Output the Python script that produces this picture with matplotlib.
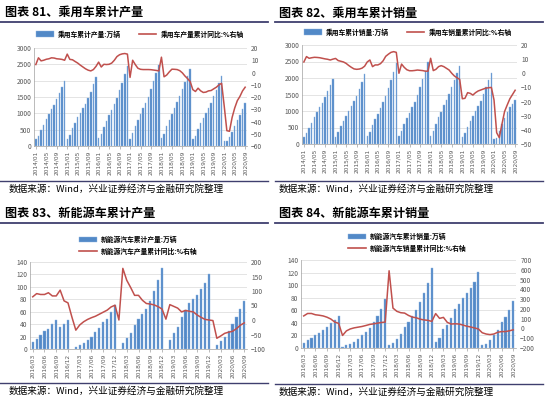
import numpy as np
import matplotlib.pyplot as plt
from matplotlib.patches import Patch
from matplotlib.lines import Line2D

plt.rcParams['font.family'] = ['Noto Sans CJK SC', 'DejaVu Sans']

W, H = 550, 399

# ---- data ----
pc_months = [f'{y}/{m:02d}' for y in range(2014, 2021) for m in range(1, 13)][:81]
nev_months = [f'{y}/{m:02d}' for y in range(2016, 2021) for m in range(1, 13)][2:57]

pc_prod = [200, 310, 490, 650, 820, 980, 1120, 1260, 1440, 1620, 1810, 2000,
           200, 350, 540, 710, 880, 1020, 1160, 1300, 1480, 1660, 1890, 2110,
           230, 370, 590, 760, 940, 1110, 1280, 1460, 1700, 1930, 2190, 2440,
           220, 400, 620, 800, 970, 1150, 1310, 1510, 1740, 1980, 2230, 2480,
           230, 380, 600, 800, 990, 1170, 1340, 1540, 1740, 1950, 2150, 2350,
           200, 320, 530, 690, 850, 1000, 1150, 1310, 1530, 1710, 1930, 2140,
           150, 160, 270, 440, 610, 800, 960, 1120, 1320]
pc_prod_yoy = [6.5, 12, 9.5, 10, 10.8, 11.2, 12, 11.8, 11.2, 11, 10.7, 10,
               15, 10.7, 10.4, 9, 7.7, 6, 4.5, 3, 1.9, 1.3, 2.4, 5,
               8.5, 4.5, 6.7, 6.5, 6.7, 7.7, 10, 13, 14.5, 15.2, 15.5, 15,
               -4, 10, 6.5, 3.5, 2.6, 2.4, 2.4, 2.4, 2.3, 2.0, 1.7, 1.3,
               12.5, -3.5, -2.1, 0.5, 2.7, 2.6, 2.4, 1.5, -0.3, -2.9, -5, -7.5,
               -14, -15.5, -12.8, -15, -16.3, -16, -15, -14.7, -13.3, -12, -10.1, -8.8,
               -27.5, -47.5, -48, -36.8, -29, -23, -19.5, -15, -12]

pc_sales = [200, 330, 490, 650, 810, 970, 1110, 1250, 1430, 1600, 1790, 1970,
            210, 350, 540, 700, 860, 1010, 1150, 1290, 1460, 1660, 1880, 2110,
            230, 370, 580, 750, 920, 1100, 1260, 1450, 1690, 1930, 2180, 2440,
            230, 400, 600, 780, 950, 1120, 1280, 1480, 1730, 1970, 2210, 2470,
            240, 400, 620, 810, 980, 1170, 1330, 1510, 1740, 1950, 2160, 2370,
            200, 340, 530, 690, 850, 1010, 1150, 1310, 1520, 1720, 1950, 2150,
            160, 190, 400, 600, 790, 960, 1120, 1200, 1340]
pc_sales_yoy = [8, 11.8, 10.6, 11, 11.3, 11.2, 11, 10.6, 10.2, 9.9, 9.4, 10,
                10.5, 9, 8.5, 8, 7, 5.5, 4.2, 3.1, 2.8, 3, 3.6, 5,
                8, 9.4, 4.7, 5.9, 5.9, 6.8, 8.8, 12, 13.5, 14.8, 15.3, 14.8,
                0, 6.5, 4.2, 2.5, 1.8, 1.8, 2, 2.3, 2.1, 1.9, 1.5, 1.5,
                10.6, 1.9, 2.8, 4.7, 5.4, 4.7, 3.5, 2.3, 0, -1.9, -3.2, -4.3,
                -18, -17.7, -13.7, -14.2, -15.4, -13.7, -12.5, -11.8, -11.1, -10.5, -10.2, -10,
                -18.9, -42, -45.5, -36, -27, -22.4, -18, -15, -12]

nan = np.nan
nev_prod = [10.7, 16, 22, 29, 32, 40, 46, 36, 40, 46,
            nan, 3, 7, 10, 15, 20, 27, 33, 43, 48, 60, 71,
            nan, 10, 18, 26, 39, 48, 56, 65, 78, 93, 111, 131,
            nan, 15, 25, 36, 51, 62, 74, 81, 87, 97, 106, 120,
            nan, 6, 13, 20, 29, 41, 52, 65, 78]
nev_prod_yoy = [80, 91, 88, 88, 94, 83, 83, 103, 66, 59,
                10, -35, -17, -6, 2, 8, 13, 20, 27, 34, 45, 51,
                0, 178, 137, 112, 85, 85, 68, 57, 55, 52, 46, 38,
                3, 53, 47, 41, 28, 33, 30, 28, 17, 9, 2, 0,
                -2, -63, -55, -46, -42, -39, -30, -18, -10]

nev_sales = [8.5, 12, 16, 20, 24, 28, 33, 39, 44, 51,
             1.5, 4, 6, 10, 15, 20, 26, 32, 41, 51, 62, 78,
             4, 8, 15, 23, 34, 42, 51, 61, 73, 87, 104, 127,
             10, 16, 30, 37, 47, 62, 70, 80, 87, 95, 105, 121,
             5, 7, 12, 21, 29, 41, 49, 61, 74]
nev_sales_yoy = [128, 153, 153, 140, 135, 128, 115, 96, 65, 52,
                 -72, -25, -5, 6, 13, 20, 30, 41, 47, 54, 61, 65,
                 590, 208, 175, 161, 157, 133, 116, 109, 95, 87, 83, 72,
                 152, 103, 113, 62, 45, 48, 45, 35, 23, 15, 5, -5,
                 -44, -57, -63, -57, -39, -32, -32, -24, -14]

BLUE = '#5289c7'
RED = '#c0504d'
GRAY = '#595959'
NAVY = '#3f3f6e'
SOURCE = '数据来源：Wind，兴业证券经济与金融研究院整理'

fig = plt.figure(figsize=(W / 100, H / 100), dpi=100)


def fx(px):
    return px / W


def fy(py):
    return 1 - py / H


def hline(x0, x1, y, lw=1.2):
    fig.add_artist(Line2D([fx(x0), fx(x1)], [fy(y), fy(y)], transform=fig.transFigure,
                          color=NAVY, lw=lw))


def panel(box, months, bars, line, bar_lab, line_lab, lticks, rticks, step, leg):
    l, t, r, b = box
    ax = fig.add_axes([fx(l), fy(b), fx(r - l), (b - t) / H])
    x = np.arange(len(months))
    ax.bar(x, bars, width=0.55, color=BLUE, edgecolor='#8db4e2', linewidth=0.3, zorder=2)
    ax.set_ylim(lticks[0], lticks[-1])
    ax.set_yticks(lticks)
    ax.set_xlim(-0.7, len(months) - 0.3)
    ax.set_xticks(x[::step])
    ax.set_xticklabels(months[::step], rotation=90, fontsize=4.2, color=GRAY,
                       family='DejaVu Sans')
    ax.tick_params(axis='y', labelsize=4.8, colors=GRAY, length=0, pad=2)
    ax.tick_params(axis='x', length=2, width=0.5, color='#a0a0a0', pad=1.5)
    ax.grid(axis='y', color='#d9d9d9', lw=0.5, zorder=0)
    for s in ['top', 'right']:
        ax.spines[s].set_visible(False)
    for s in ['left', 'bottom']:
        ax.spines[s].set_color('#a0a0a0')
        ax.spines[s].set_linewidth(0.5)
    ax2 = ax.twinx()
    ax2.plot(x, line, color=RED, lw=1.1, zorder=3)
    ax2.set_ylim(rticks[0], rticks[-1])
    ax2.set_yticks(rticks)
    ax2.tick_params(axis='y', labelsize=4.8, colors=GRAY, length=0, pad=3)
    for s in ['top', 'right', 'left', 'bottom']:
        ax2.spines[s].set_visible(False)

    handles = [Patch(facecolor=BLUE, edgecolor='#8db4e2', lw=0.3),
               Line2D([0], [0], color=RED, lw=1.2)]
    fig.legend(handles, [bar_lab, line_lab], frameon=False,
               prop={'size': 4.9, 'weight': 'bold'},
               handlelength=2.6, handleheight=0.9, handletextpad=0.6,
               columnspacing=2.6, labelspacing=0.7, borderpad=0, **leg)
    return ax


# titles, rules and sources
titles = [('图表 81、乘用车累计产量', 5, 13, 0, 268),
          ('图表 82、乘用车累计销量', 279, 13, 275, 543),
          ('图表 83、新能源车累计产量', 5, 214, 0, 268),
          ('图表 84、新能源车累计销量', 279, 214, 275, 543)]
for txt, x0, y0, a, b in titles:
    fig.text(fx(x0), fy(y0), txt, fontsize=8.7, weight='bold', va='center', ha='left')
    hline(a, b, y0 + 9, lw=1.3)

for x0, y0, a, b in [(9, 189, 0, 268), (279, 189, 275, 543),
                     (9, 391, 0, 268), (279, 392, 275, 543)]:
    hline(a, b, y0 - 8, lw=1.0)
    fig.text(fx(x0), fy(y0), SOURCE, fontsize=6.9, va='center', ha='left')

pc_ticks = np.arange(0, 3001, 500)
nev_ticks = np.arange(0, 141, 20)

panel((34, 48, 247, 146), pc_months, pc_prod, pc_prod_yoy,
      '乘用车累计产量:万辆', '乘用车产量累计同比:%右轴',
      pc_ticks, np.arange(-60, 21, 10), 4,
      dict(loc='center', ncol=2, bbox_to_anchor=(fx(140), fy(34))))
panel((302, 45, 517, 144), pc_months, pc_sales, pc_sales_yoy,
      '乘用车累计销量:万辆', '乘用车销量累计同比:%右轴',
      pc_ticks, np.arange(-50, 21, 10), 4,
      dict(loc='center', ncol=2, bbox_to_anchor=(fx(408), fy(32))))
panel((30, 262, 247, 349), nev_months, nev_prod, nev_prod_yoy,
      '新能源汽车累计产量:万辆', '新能源汽车产量累计同比:%右轴',
      nev_ticks, np.arange(-100, 201, 50), 3,
      dict(loc='upper left', ncol=1, bbox_to_anchor=(fx(76), fy(232))))
panel((301, 260, 516, 348), nev_months, nev_sales, nev_sales_yoy,
      '新能源汽车累计销量:万辆', '新能源汽车销量累计同比:%右轴',
      nev_ticks, np.arange(-200, 701, 100), 3,
      dict(loc='upper left', ncol=1, bbox_to_anchor=(fx(345), fy(229))))

fig.savefig('out.png', dpi=100, facecolor='white')
